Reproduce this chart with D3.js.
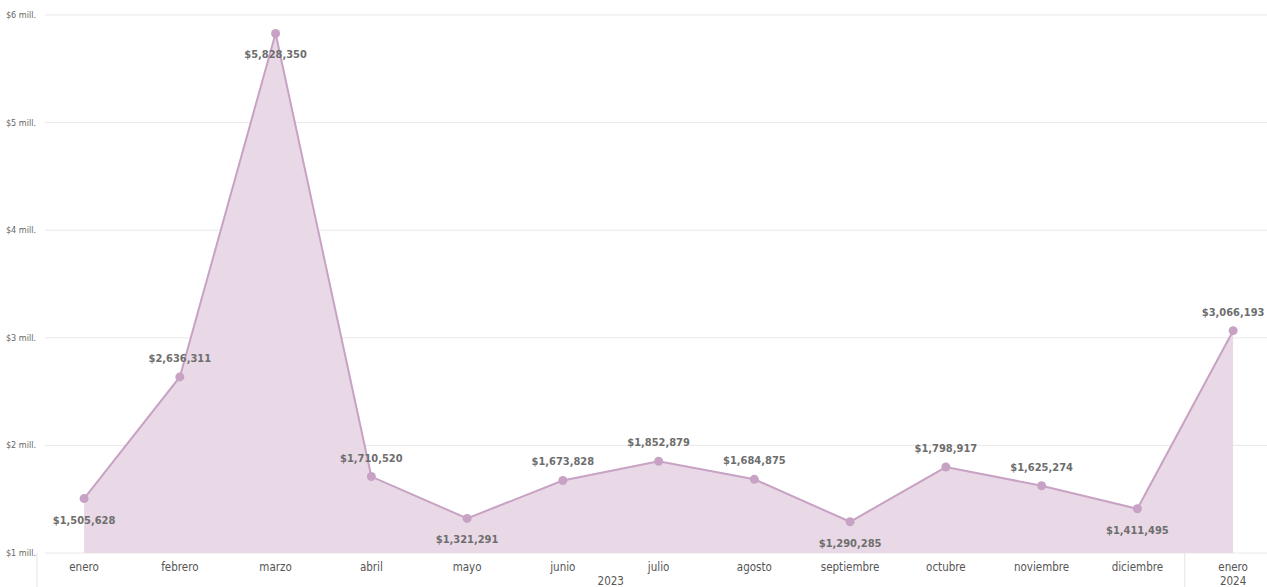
<!DOCTYPE html>
<html>
<head>
<meta charset="utf-8">
<script src="https://cdn.jsdelivr.net/npm/d3@7"></script>
<style>
body { margin: 0; background: #fff; }
svg { display: block; font-family: "DejaVu Sans Condensed", "DejaVu Sans", sans-serif; }
</style>
</head>
<body>
<svg id="chart" width="1267" height="587"></svg>
<script>
var months = ['enero', 'febrero', 'marzo', 'abril', 'mayo', 'junio', 'julio', 'agosto', 'septiembre', 'octubre', 'noviembre', 'diciembre', 'enero'];
var years = ['2023', '2023', '2023', '2023', '2023', '2023', '2023', '2023', '2023', '2023', '2023', '2023', '2024'];
var values = [1505628, 2636311, 5828350, 1710520, 1321291, 1673828, 1852879, 1684875, 1290285, 1798917, 1625274, 1411495, 3066193];
// label above (1) or below (-1) the point
var labelSide = [-1, 1, -1, 1, -1, 1, 1, 1, -1, 1, 1, -1, 1];
var yTicks = [1000000, 2000000, 3000000, 4000000, 5000000, 6000000];

var svg = d3.select('#chart');
var idx = d3.range(values.length);

var x = d3.scaleBand()
	.domain(idx)
	.range([36.2, 1281]);

var y = d3.scaleLinear()
	.domain([1000000, 6000000])
	.range([553, 15]);

var cx = function(i) { return x(i) + x.bandwidth() / 2; };

// gridlines
svg.append('g').selectAll('line')
	.data(yTicks)
	.enter().append('line')
		.attr('x1', 45)
		.attr('x2', 1267)
		.attr('y1', function(d) { return y(d); })
		.attr('y2', function(d) { return y(d); })
		.style('stroke', '#e9e9e9')
		.style('stroke-width', 1);

svg.append('g').selectAll('text')
	.data(yTicks)
	.enter().append('text')
		.attr('x', 36)
		.attr('y', function(d) { return y(d) + 3; })
		.attr('text-anchor', 'end')
		.style('font-size', '9px')
		.style('fill', '#666')
		.text(function(d) { return '$' + (d / 1000000) + ' mill.'; });

// area + line
var area = d3.area()
	.x(function(i) { return cx(i); })
	.y0(y(1000000))
	.y1(function(i) { return y(values[i]); });

var line = d3.line()
	.x(function(i) { return cx(i); })
	.y(function(i) { return y(values[i]); });

svg.append('path')
	.datum(idx)
	.attr('d', area)
	.style('fill', '#e9d9e6');

svg.append('path')
	.datum(idx)
	.attr('d', line)
	.style('fill', 'none')
	.style('stroke', '#c8a2c4')
	.style('stroke-width', 2);

svg.append('g').selectAll('circle')
	.data(idx)
	.enter().append('circle')
		.attr('cx', cx)
		.attr('cy', function(i) { return y(values[i]); })
		.attr('r', 4.5)
		.style('fill', '#c8a2c4');

var fmt = d3.format('$,');
svg.append('g').selectAll('text')
	.data(idx)
	.enter().append('text')
		.attr('x', cx)
		.attr('y', function(i) { return y(values[i]) + (labelSide[i] > 0 ? -15 : 25); })
		.attr('text-anchor', 'middle')
		.style('font-size', '11px')
		.style('font-weight', 'bold')
		.style('fill', '#6e6e6e')
		.text(function(i) { return fmt(values[i]); });

// x axis
var axis = svg.append('g');
axis.append('line')
	.attr('x1', 37).attr('x2', 37)
	.attr('y1', 553).attr('y2', 587)
	.style('stroke', '#e3e3e3');
axis.append('line')
	.attr('x1', x(12) - 0.5).attr('x2', x(12) - 0.5)
	.attr('y1', 553).attr('y2', 587)
	.style('stroke', '#e3e3e3');

axis.selectAll('text.month')
	.data(idx)
	.enter().append('text')
		.attr('class', 'month')
		.attr('x', cx)
		.attr('y', 571)
		.attr('text-anchor', 'middle')
		.style('font-size', '11.5px')
		.style('fill', '#555')
		.text(function(i) { return months[i]; });

var yearGroups = d3.groups(idx, function(i) { return years[i]; });
axis.selectAll('text.year')
	.data(yearGroups)
	.enter().append('text')
		.attr('class', 'year')
		.attr('x', function(g) { return (cx(g[1][0]) + cx(g[1][g[1].length - 1])) / 2; })
		.attr('y', 585)
		.attr('text-anchor', 'middle')
		.style('font-size', '11.5px')
		.style('fill', '#555')
		.text(function(g) { return g[0]; });
</script>
</body>
</html>
